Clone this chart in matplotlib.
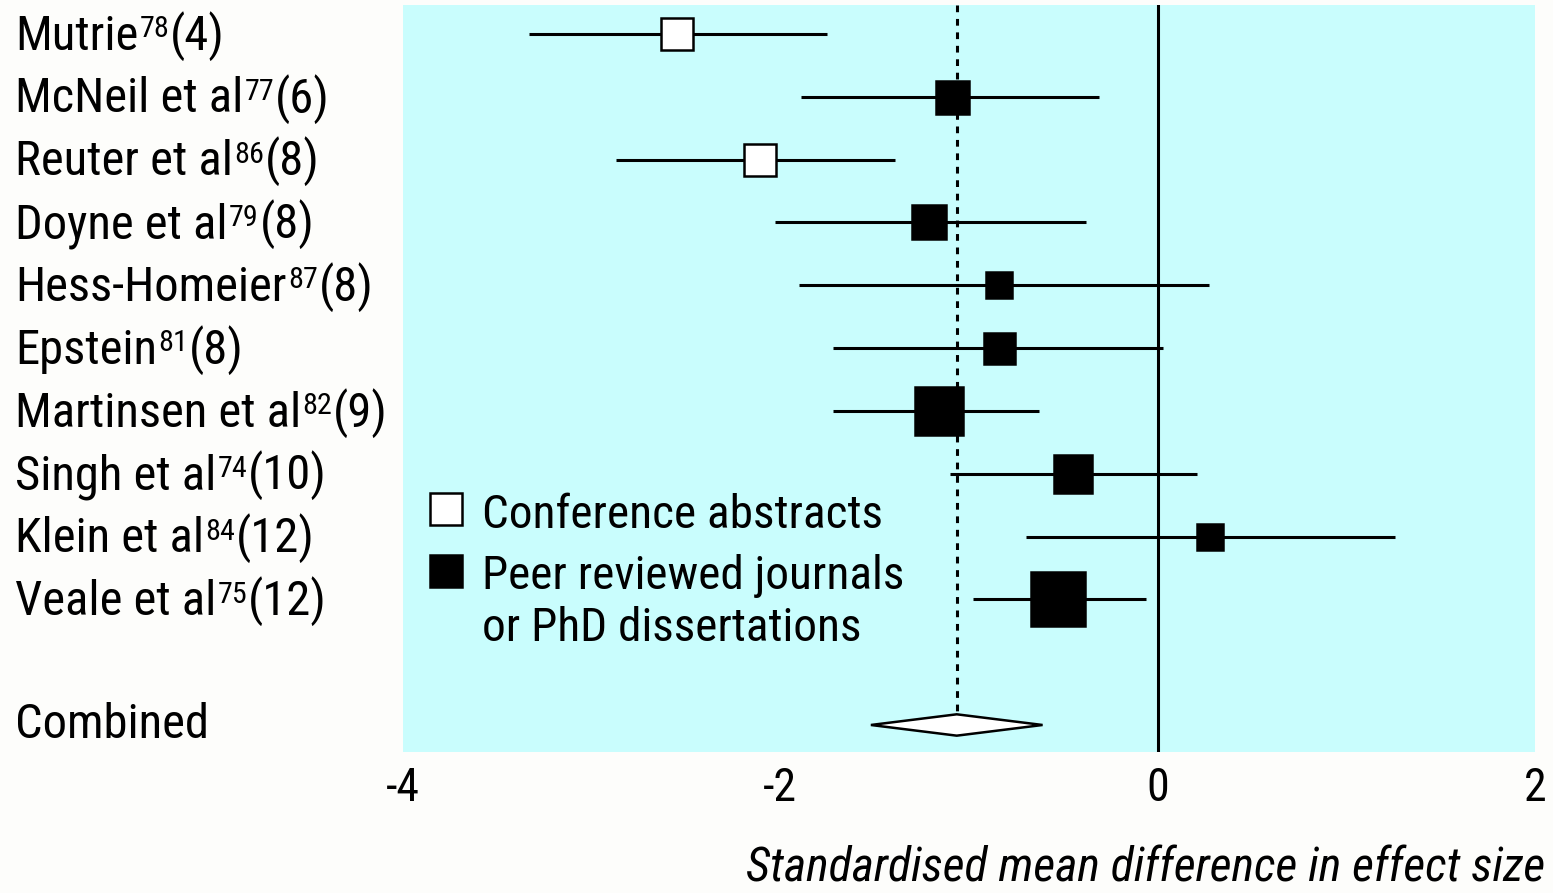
import matplotlib
matplotlib.use("Agg")
import matplotlib.pyplot as plt
from matplotlib import font_manager
from matplotlib.transforms import blended_transform_factory
from matplotlib.patches import Polygon

# ---- data -------------------------------------------------------------
studies = ["Mutrie", "McNeil et al", "Reuter et al", "Doyne et al",
           "Hess-Homeier", "Epstein", "Martinsen et al", "Singh et al",
           "Klein et al", "Veale et al"]
refs = ["78", "77", "86", "79", "87", "81", "82", "74", "84", "75"]
quality = [4, 6, 8, 8, 8, 8, 9, 10, 12, 12]
effect = [-2.55, -1.09, -2.11, -1.21, -0.84, -0.84, -1.16, -0.45, 0.28, -0.53]
lower = [-3.33, -1.89, -2.87, -2.03, -1.90, -1.72, -1.72, -1.10, -0.70, -0.98]
upper = [-1.75, -0.31, -1.39, -0.38, 0.27, 0.03, -0.63, 0.21, 1.26, -0.06]
conference = [True, False, True, False, False, False, False, False, False, False]
weights = [32, 33, 32, 34, 26, 31, 48, 38, 26, 54]

combined_label = "Combined"
combined_effect = -1.065
combined_lower = -1.52
combined_upper = -0.61

xticks = [-4, -2, 0, 2]
xticklabels = ["-4", "-2", "0", "2"]
xlabel = "Standardised mean difference in effect size"
legend_labels = ["Conference abstracts", "Peer reviewed journals",
                 "or PhD dissertations"]

# ---- font: prefer a condensed sans ------------------------------------
entries = font_manager.fontManager.ttflist
names = {f.name for f in entries}
STRETCH = "normal"
if "Roboto Condensed" in names:
    FAMILY = "Roboto Condensed"
elif "Liberation Sans Narrow" in names:
    FAMILY = "Liberation Sans Narrow"
elif any(f.name == "DejaVu Sans" and f.stretch == "condensed" for f in entries):
    FAMILY = "DejaVu Sans"
    STRETCH = "condensed"
else:
    FAMILY = "Liberation Sans"
plt.rcParams["font.family"] = [FAMILY, "DejaVu Sans"]
plt.rcParams["font.stretch"] = STRETCH

BG = "#C9FDFD"
FS = 35
W, H = 1553, 893
DPI = 100

fig = plt.figure(figsize=(W / DPI, H / DPI), dpi=DPI, facecolor="#FDFDFB")
ax = fig.add_axes([403 / W, 1 - 752 / H, (1535 - 403) / W, (752 - 5) / H])
ax.set_facecolor(BG)
for s in ax.spines.values():
    s.set_visible(False)

n = len(studies)
comb_row = n + 1
ax.set_xlim(-4, 2)
ax.set_ylim(comb_row + 0.43, -0.46)

# reference line at zero
ax.axvline(0, color="black", lw=2.2, zorder=2)

# pooled estimate: dashed line down to the diamond
dia_h = 0.17
ax.plot([combined_effect, combined_effect], [-0.46, comb_row - dia_h],
        color="black", lw=2.2, ls=(0, (2.2, 2.2)), zorder=2)

# study rows
for i in range(n):
    ax.plot([lower[i], upper[i]], [i, i], color="black", lw=2.2,
            solid_capstyle="butt", zorder=3)
    face = "white" if conference[i] else "black"
    ax.plot([effect[i]], [i], marker="s", ms=weights[i] * 0.72,
            mfc=face, mec="black", mew=1.8, ls="none", zorder=4)

# combined diamond
diamond = Polygon([[combined_lower, comb_row], [combined_effect, comb_row - dia_h],
                   [combined_upper, comb_row], [combined_effect, comb_row + dia_h]],
                  closed=True, facecolor="white", edgecolor="black", lw=1.8,
                  zorder=4)
ax.add_patch(diamond)

# row labels with superscript references (baseline aligned)
lab_tr = blended_transform_factory(fig.transFigure, ax.transData)
x0 = 15 / W
base = 0.25          # baseline sits a little below the row centre
rise = 9.0           # superscript lift, points
for i in range(n):
    y = i + base
    t1 = ax.text(x0, y, studies[i], transform=lab_tr, fontsize=FS,
                 ha="left", va="baseline", clip_on=False)
    t2 = ax.annotate(refs[i], xy=(1, y), xycoords=(t1, lab_tr),
                     xytext=(1.0, rise), textcoords="offset points",
                     fontsize=FS * 0.62, ha="left", va="baseline",
                     annotation_clip=False)
    ax.annotate(f"({quality[i]})", xy=(1, y), xycoords=(t2, lab_tr),
                xytext=(0.5, 0), textcoords="offset points", fontsize=FS,
                ha="left", va="baseline", annotation_clip=False)
ax.text(x0, comb_row + base - 0.05, combined_label, transform=lab_tr,
        fontsize=FS, ha="left", va="baseline", clip_on=False)

# legend
leg_x = -3.77
leg_tx = -3.58
ax.plot([leg_x], [7.56], marker="s", ms=32 * 0.72, mfc="white", mec="black",
        mew=1.8, ls="none", zorder=4)
ax.plot([leg_x], [8.55], marker="s", ms=32 * 0.72, mfc="black", mec="black",
        mew=1.8, ls="none", zorder=4)
for lbl, yy in zip(legend_labels, [7.61, 8.58, 9.41]):
    ax.text(leg_tx, yy + base, lbl, fontsize=FS - 1, ha="left", va="baseline")

# axis
ax.set_yticks([])
ax.set_xticks(xticks)
ax.set_xticklabels(xticklabels, fontsize=FS - 2)
ax.tick_params(axis="x", length=0, pad=10)

fig.text(1545 / W, 1 - 869 / H, xlabel, fontsize=FS - 0.5, style="italic",
         ha="right", va="center")

fig.savefig("out.png", dpi=DPI, facecolor=fig.get_facecolor())
